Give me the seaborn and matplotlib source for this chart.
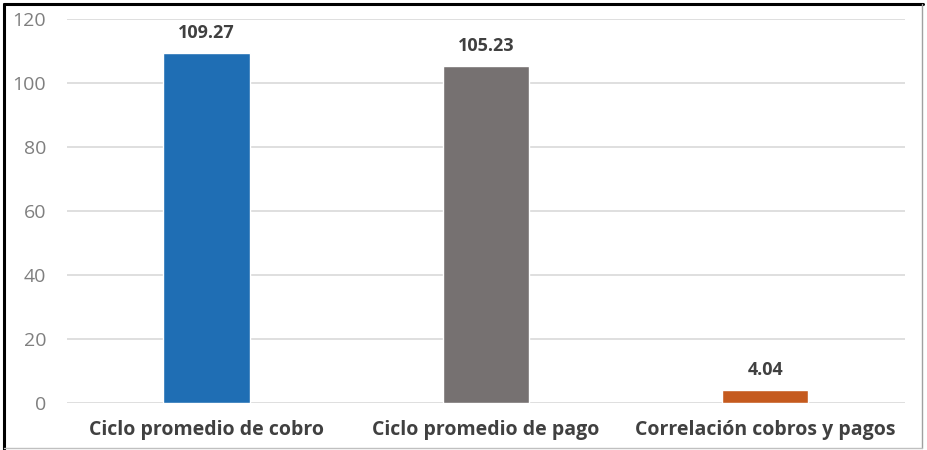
import matplotlib
matplotlib.use("Agg")
import matplotlib.pyplot as plt
from matplotlib.lines import Line2D
import seaborn as sns
import pandas as pd

# Datos del gráfico
categorias = ["Ciclo promedio de cobro", "Ciclo promedio de pago", "Correlación cobros y pagos"]
valores = [109.27, 105.23, 4.04]
colores = ["#1f6eb4", "#767171", "#c55a1e"]
ticks_y = [0, 20, 40, 60, 80, 100, 120]

sns.set_theme(style="white")
plt.rcParams['font.family'] = ['Open Sans', 'DejaVu Sans']

df = pd.DataFrame({"categoria": categorias, "valor": valores})

fig = plt.figure(figsize=(9.28, 4.5), dpi=100)
ax = fig.add_axes([0.0722, 0.1044, 0.9028, 0.8534])

sns.barplot(data=df, x="categoria", y="valor", hue="categoria", palette=colores,
            width=0.31, legend=False, ax=ax, saturation=1)

ax.set_ylim(0, 120)
ax.set_xlim(-0.5, 2.5)
ax.set_yticks(ticks_y)
ax.set_yticklabels([str(t) for t in ticks_y], color="#7f7f7f", fontsize=14)
ax.yaxis.grid(True, color="#d9d9d9", linewidth=1.2)
ax.set_axisbelow(True)
for s in ax.spines.values():
    s.set_visible(False)
ax.tick_params(axis="x", length=0, pad=12)
ax.tick_params(axis="y", length=0, pad=15)
ax.set_xlabel("")
ax.set_ylabel("")
for lbl in ax.get_xticklabels():
    lbl.set_fontweight("bold")
    lbl.set_fontsize(14)
    lbl.set_color("#404040")

# Etiquetas de valores
for i, v in enumerate(valores):
    ax.annotate(f"{v:.2f}", (i, v), xytext=(0, 8), textcoords="offset points",
                ha="center", va="bottom", fontsize=13, fontweight="bold", color="#404040")

# Marco de la imagen
fig.add_artist(Line2D([0.004, 0.004], [0.0, 0.992], transform=fig.transFigure, color="black", linewidth=2.2))
fig.add_artist(Line2D([0.004, 0.995], [0.992, 0.992], transform=fig.transFigure, color="black", linewidth=2.2))
fig.add_artist(Line2D([0.994, 0.994], [0.005, 0.992], transform=fig.transFigure, color="#a0a0a0", linewidth=1))
fig.add_artist(Line2D([0.004, 0.994], [0.005, 0.005], transform=fig.transFigure, color="#c0c0c0", linewidth=1))

fig.savefig("out.png", dpi=100)
